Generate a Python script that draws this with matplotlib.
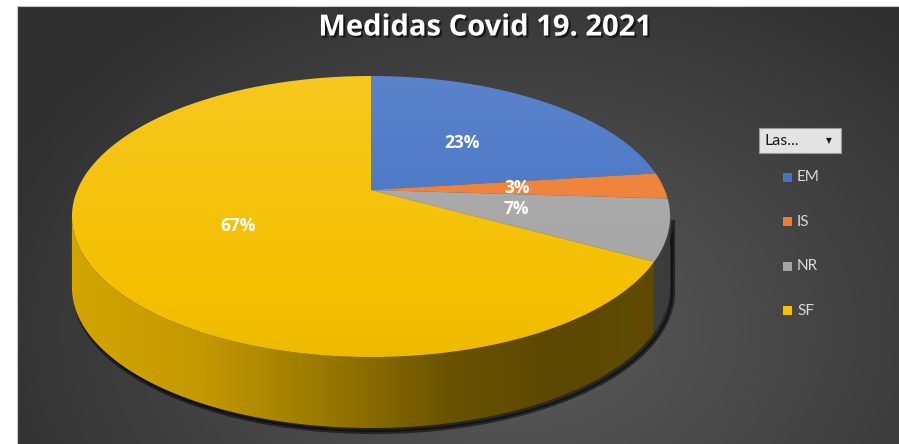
import numpy as np
import matplotlib
matplotlib.use("Agg")
import matplotlib.pyplot as plt
from matplotlib.patches import Polygon, Rectangle, FancyBboxPatch
import matplotlib.patheffects as pe
from matplotlib.colors import to_rgb

# data
categories = ["EM", "IS", "NR", "SF"]
values = [23, 3, 7, 67]
colors = ["#4472c4", "#ed7d31", "#a5a5a5", "#f5c000"]
title = "Medidas Covid 19. 2021"
filter_label = "Las..."

W, H = 899, 444
fig = plt.figure(figsize=(W / 100, H / 100), dpi=100, facecolor="white")
ax = fig.add_axes([0, 0, 1, 1])
ax.axis("off")

# dark panel with a soft radial gradient
px0, py0 = 17, 7
yy, xx = np.mgrid[py0:H, px0:W]
rr = np.hypot((xx - 520) / 560, (yy - 330) / 400)
g = np.clip(0.36 - 0.17 * rr, 0.19, 0.36)
ax.imshow(np.dstack([g, g, g]), extent=(px0, W, H, py0), aspect="auto", zorder=0)
ax.add_patch(Rectangle((px0 - 0.5, py0 - 0.5), W, H, fill=False, ec="#c8c8c8", lw=0.8, zorder=1))

# perspective pie geometry
cx, cy = 371, 190
sx, sy, kappa = 293.7, 135.5, -0.1886
depth = 71


def proj(u, v, r=1.0):
    u, v = u * r, v * r
    d = 1 + kappa * v
    return cx + sx * u / d, cy + sy * v / d


def rim(a0, a1, n=200):
    a = np.linspace(a0, a1, n)
    return proj(np.sin(a), -np.cos(a))


def side_shade(x):
    return np.interp(x, [72, 200, 330, 450, 560, 640, 672],
                     [0.86, 0.8, 0.62, 0.43, 0.37, 0.39, 0.36])


def clip_image(poly, img, zorder):
    patch = Polygon(poly, closed=True, fc="none", ec="none")
    ax.add_patch(patch)
    im = ax.imshow(img, extent=(0, W, H, 0), aspect="auto", zorder=zorder,
                   interpolation="bilinear")
    im.set_clip_path(patch)


fracs = np.array(values) / np.sum(values)
bounds = np.concatenate([[0], np.cumsum(fracs)]) * 2 * np.pi
vis0 = np.arccos(kappa)            # right silhouette point
vis1 = 2 * np.pi - vis0            # left silhouette point

# shadow under the pie
sxr, syr = rim(vis0, vis1)
shadow = np.column_stack([np.r_[sxr, sxr[::-1]] + 3, np.r_[syr, syr[::-1] + depth] + 4])
ax.add_patch(Polygon(shadow, closed=True, fc="black", ec="black", lw=3, alpha=0.5, zorder=2))

# side walls
xs = np.arange(W) + 0.5
for i, col in enumerate(colors):
    lo, hi = max(bounds[i], vis0), min(bounds[i + 1], vis1)
    if lo >= hi:
        continue
    ex, ey = rim(lo, hi)
    poly = np.column_stack([np.r_[ex, ex[::-1]], np.r_[ey, ey[::-1] + depth]])
    base = np.array(to_rgb(col))
    img = np.clip(base[None, None, :] * side_shade(xs)[None, :, None], 0, 1)
    clip_image(poly, img, 3)

# top faces
ys = np.arange(H) + 0.5
light = np.interp(ys, [76, 357], [0.12, -0.03])[:, None, None]
for i, col in enumerate(colors):
    ex, ey = rim(bounds[i], bounds[i + 1])
    poly = np.column_stack([np.r_[cx, ex], np.r_[cy, ey]])
    base = np.array(to_rgb(col))[None, None, :]
    img = np.where(light > 0, base + (1 - base) * light, base * (1 + light))
    clip_image(poly, np.clip(img, 0, 1), 4)

# percentage labels
for i, f in enumerate(fracs):
    mid = (bounds[i] + bounds[i + 1]) / 2
    lx, ly = proj(np.sin(mid), -np.cos(mid), 0.5)
    ax.text(lx, ly, f"{values[i]}%", color="white", fontsize=12.5, fontweight="bold",
            family="Open Sans", ha="center", va="center", zorder=6)

# title
ax.text(485, 28, title, color="white", fontsize=21, fontweight="bold", family="Open Sans",
        ha="center", va="center", zorder=6,
        path_effects=[pe.withSimplePatchShadow(offset=(1.5, -1.5), shadow_rgbFace="black", alpha=0.6)])

# filter button
ax.add_patch(FancyBboxPatch((759, 128), 82, 25, boxstyle="square,pad=0", fc="#e3e3e3",
                            ec="#9a9a9a", lw=0.8, zorder=5))
ax.text(764, 141, filter_label, color="#1a1a1a", fontsize=11.5, family="Lato",
        ha="left", va="center", zorder=6)
ax.text(829, 141, "\u25BC", color="#1a1a1a", fontsize=5.5, ha="center", va="center", zorder=6)

# legend
for i, (cat, col) in enumerate(zip(categories, colors)):
    ly = 177 + i * 44.5
    ax.add_patch(Rectangle((783, ly - 4.5), 9, 9, fc=col, ec="none", zorder=5))
    ax.text(797, ly, cat, color="#d9d9d9", fontsize=11, family="Lato",
            ha="left", va="center", zorder=6)

ax.set_xlim(0, W)
ax.set_ylim(H, 0)
fig.savefig("out.png", dpi=100, facecolor="white")
